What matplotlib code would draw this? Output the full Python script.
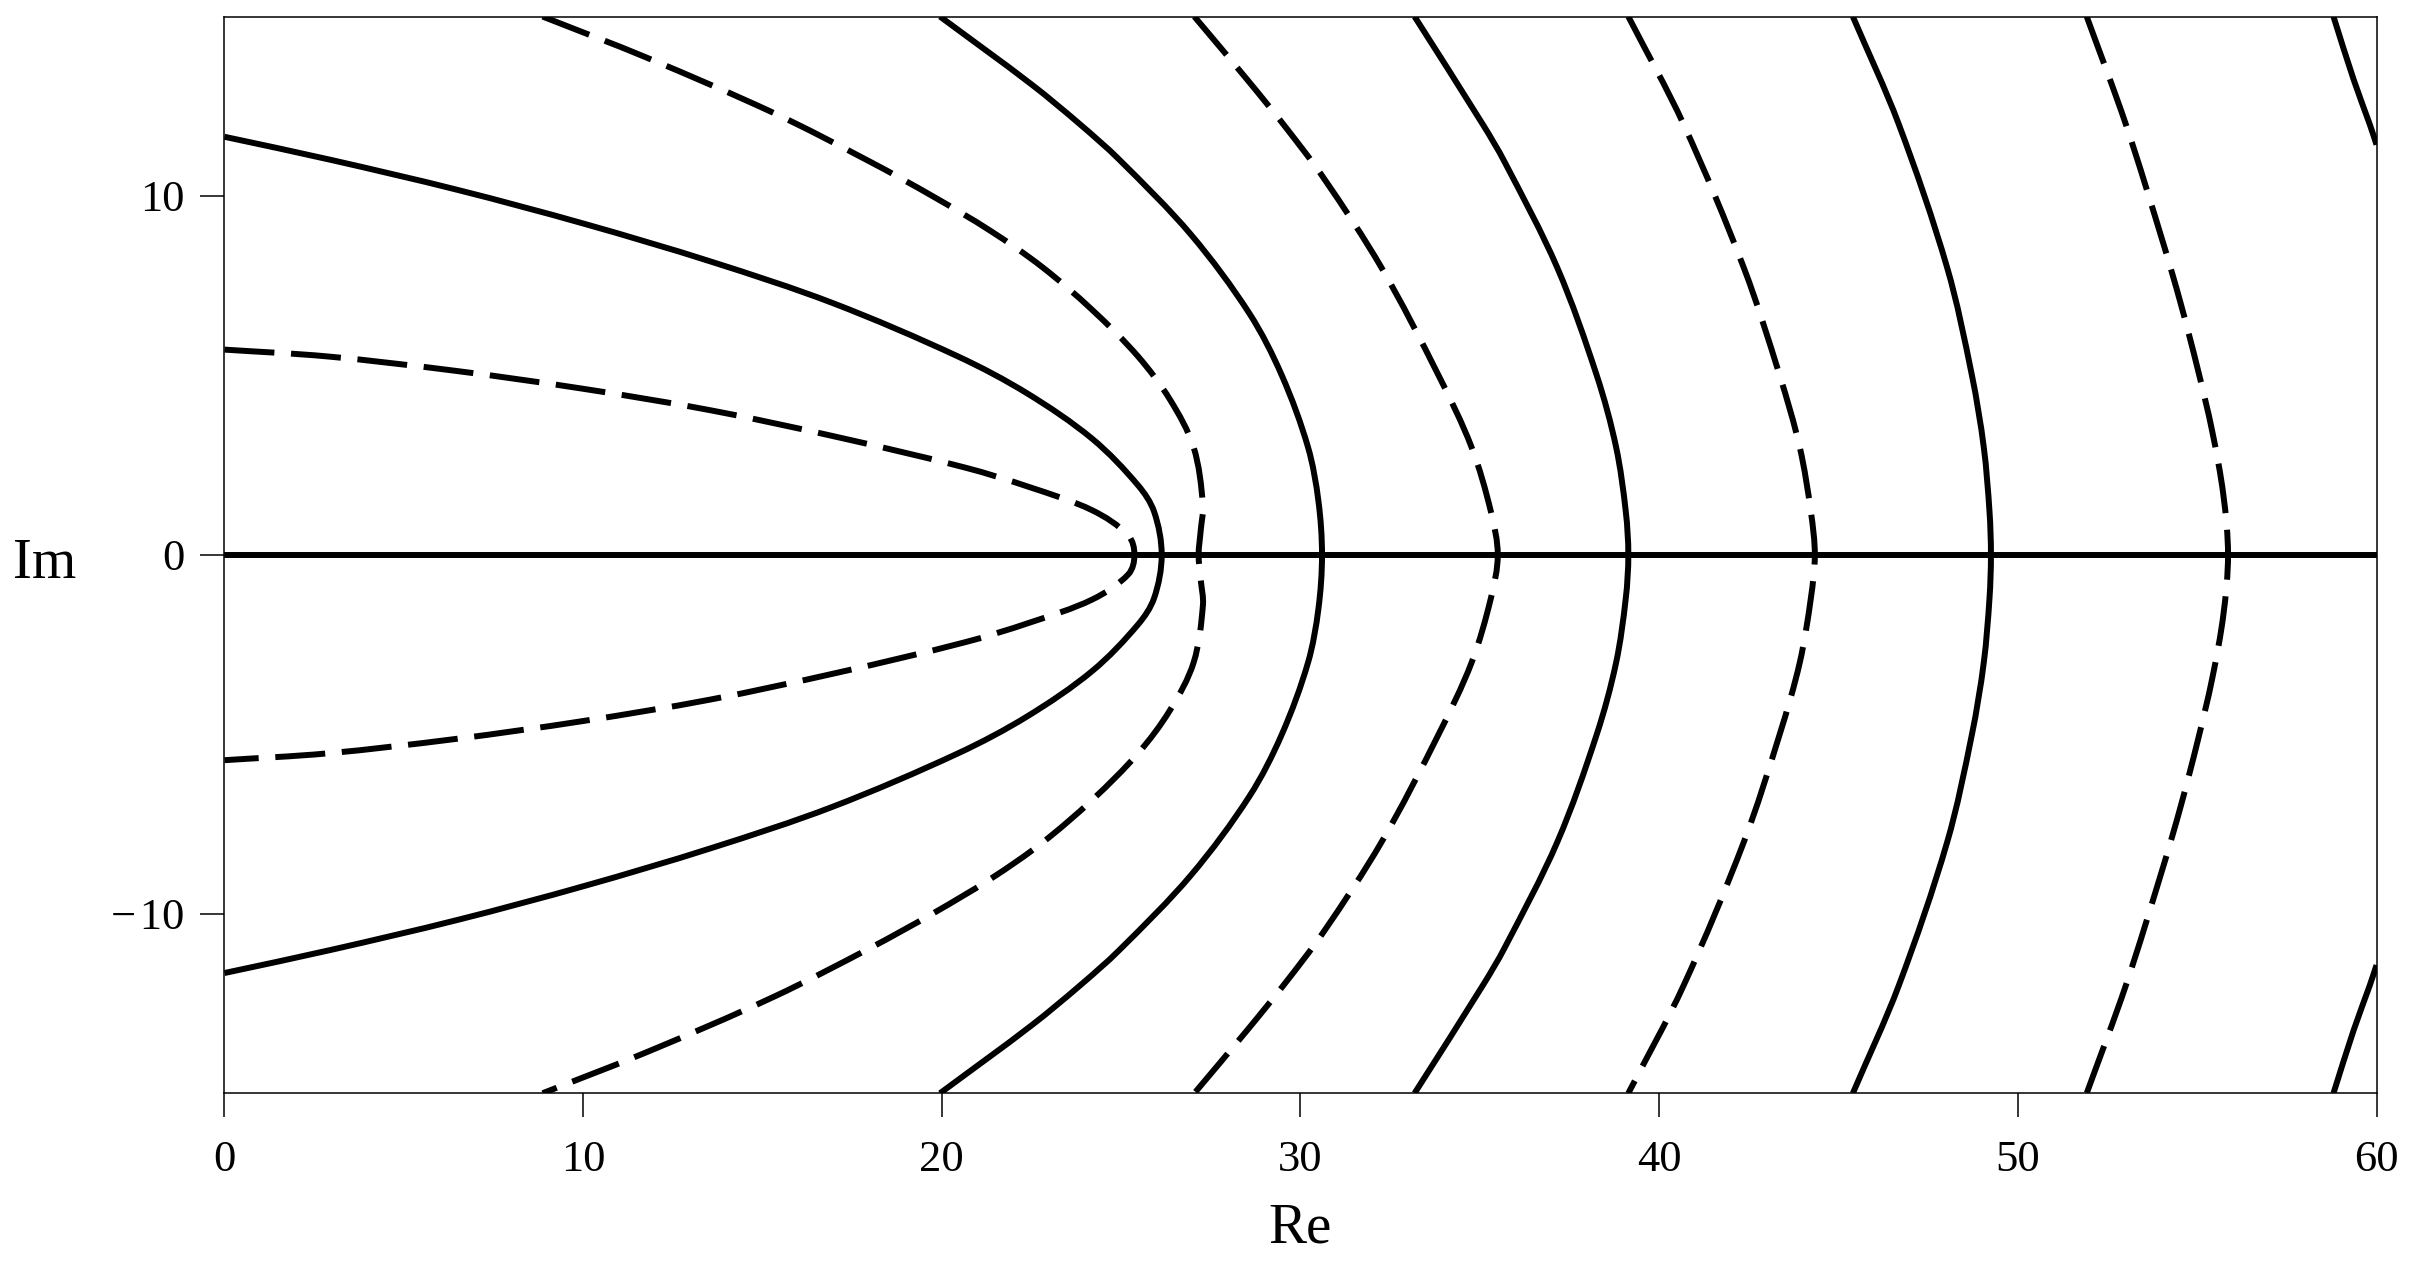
import numpy as np
import matplotlib
matplotlib.use("Agg")
import matplotlib.pyplot as plt
from matplotlib.path import Path
from matplotlib.patches import PathPatch

plt.rcParams['font.family'] = ['Liberation Serif', 'DejaVu Serif']
plt.rcParams['lines.scale_dashes'] = False

# upper halves (Im >= 0) of the level curves,
# from the top edge (or left edge) down to the real axis.
# the lower halves are mirror images.
c1_re = [0.0, 2.95, 6.5, 10.05, 13.57, 16.95, 20.45, 22.38, 24.2, 25.47, 25.92, 26.13]
c1_im = [11.65, 11.01, 10.17, 9.22, 8.17, 7.02, 5.53, 4.5, 3.23, 1.94, 1.2, 0.0]

d1_re = [0.0, 2.87, 6.43, 9.99, 13.55, 17.1, 20.66, 22.44, 24.2, 25.2, 25.37]
d1_im = [5.72, 5.53, 5.13, 4.63, 4.03, 3.28, 2.43, 1.89, 1.24, 0.54, 0.0]

d2_re = [8.87, 11.76, 15.32, 17.99, 19.77, 21.37, 22.8, 24.2, 25.47, 26.36, 27.02, 27.28, 27.22, 27.16]
d2_im = [15.0, 13.86, 12.31, 10.96, 9.98, 9.02, 8.02, 6.82, 5.53, 4.33, 3.0, 1.4, 0.7, 0.0]

c2_re = [19.95, 22.5, 23.85, 24.95, 26.95, 28.58, 29.48, 30.21, 30.5, 30.6]
c2_im = [15.0, 13.11, 12.0, 11.01, 8.92, 6.72, 5.0, 3.0, 1.5, 0.0]

d3_re = [27.04, 28.5, 29.52, 30.64, 32.26, 33.85, 34.77, 35.31, 35.5]
d3_im = [15.0, 13.26, 12.0, 10.51, 8.0, 5.0, 3.0, 1.2, 0.0]

c3_re = [33.18, 35.08, 35.69, 37.16, 38.26, 38.8, 39.07, 39.14]
c3_im = [15.0, 12.0, 10.95, 8.0, 5.0, 3.0, 1.2, 0.0]

d4_re = [39.14, 40.68, 42.36, 43.36, 43.92, 44.23, 44.34]
d4_im = [15.0, 12.0, 8.0, 5.0, 3.0, 1.2, 0.0]

c4_re = [45.4, 46.68, 48.03, 48.72, 49.05, 49.21, 49.25]
c4_im = [15.0, 12.0, 8.0, 5.0, 3.0, 1.2, 0.0]

d5_re = [51.92, 53.02, 54.07, 54.55, 55.01, 55.42, 55.73, 55.86]
d5_im = [15.0, 11.97, 8.63, 6.97, 5.2, 3.44, 1.67, 0.0]

# this one leaves through the right edge, so both halves are drawn separately
c5_re = [58.8, 59.36, 59.81, 60.0]
c5_im = [15.0, 13.25, 12.0, 11.43]

closed_curves = [
    (c1_re, c1_im, 'solid'),
    (d1_re, d1_im, 'dashed'),
    (d2_re, d2_im, 'dashed'),
    (c2_re, c2_im, 'solid'),
    (d3_re, d3_im, 'dashed'),
    (c3_re, c3_im, 'solid'),
    (d4_re, d4_im, 'dashed'),
    (c4_re, c4_im, 'solid'),
    (d5_re, d5_im, 'dashed'),
]

xticks = [0, 10, 20, 30, 40, 50, 60]
xtick_labels = ['0', '10', '20', '30', '40', '50', '60']
yticks = [-10, 0, 10]
ytick_labels = ['\u2212\u200a10', '0', '10']

LW = 4.3


def mirror(re, im):
    # join upper half with its reflection across the real axis
    re = np.asarray(re)
    im = np.asarray(im)
    x = np.concatenate([re, re[-2::-1]])
    y = np.concatenate([im, -im[-2::-1]])
    return x, y


def smooth_path(x, y):
    # bezier path through the read points (tangent from the neighbours)
    pts = np.column_stack([x, y]).astype(float)
    tang = np.zeros_like(pts)
    tang[0] = pts[1] - pts[0]
    tang[-1] = pts[-1] - pts[-2]
    tang[1:-1] = pts[2:] - pts[:-2]
    tang /= np.linalg.norm(tang, axis=1)[:, None]
    verts = [pts[0]]
    codes = [Path.MOVETO]
    for i in range(len(pts) - 1):
        h = np.linalg.norm(pts[i + 1] - pts[i]) / 3
        verts += [pts[i] + tang[i] * h, pts[i + 1] - tang[i + 1] * h, pts[i + 1]]
        codes += [Path.CURVE4] * 3
    return Path(verts, codes)


def draw(ax, x, y, style):
    if style == 'dashed':
        ls = (0, (36, 12))
    else:
        ls = 'solid'
    patch = PathPatch(smooth_path(x, y), fill=False, edgecolor='k', lw=LW,
                      linestyle=ls, capstyle='butt', joinstyle='round')
    ax.add_patch(patch)


fig = plt.figure(figsize=(24.11, 12.73), dpi=100)
ax = fig.add_axes([0.0931, 0.1412, 0.8926, 0.8458])

ax.axhline(0, color='k', lw=LW)

for re, im, style in closed_curves:
    x, y = mirror(re, im)
    draw(ax, x, y, style)

draw(ax, c5_re, c5_im, 'solid')
draw(ax, c5_re, -np.asarray(c5_im), 'solid')

ax.set_xlim(0, 60)
ax.set_ylim(-15, 15)
ax.set_xticks(xticks)
ax.set_xticklabels(xtick_labels)
ax.set_yticks(yticks)
ax.set_yticklabels(ytick_labels)

ax.tick_params(direction='out', length=17, width=1.1, labelsize=32, color='k')
ax.tick_params(axis='x', pad=17)
ax.tick_params(axis='y', pad=12)
for sp in ax.spines.values():
    sp.set_linewidth(1.1)
    sp.set_color('k')

ax.set_xlabel('Re', fontsize=41)
ax.xaxis.label.set_va('baseline')
ax.xaxis.set_label_coords(0.5, -0.1387)
ax.set_ylabel('Im', fontsize=41, rotation=0)
ax.yaxis.label.set_va('baseline')
ax.yaxis.label.set_ha('center')
ax.yaxis.set_label_coords(-0.0834, 0.4785)

fig.savefig('out.png', dpi=100)
